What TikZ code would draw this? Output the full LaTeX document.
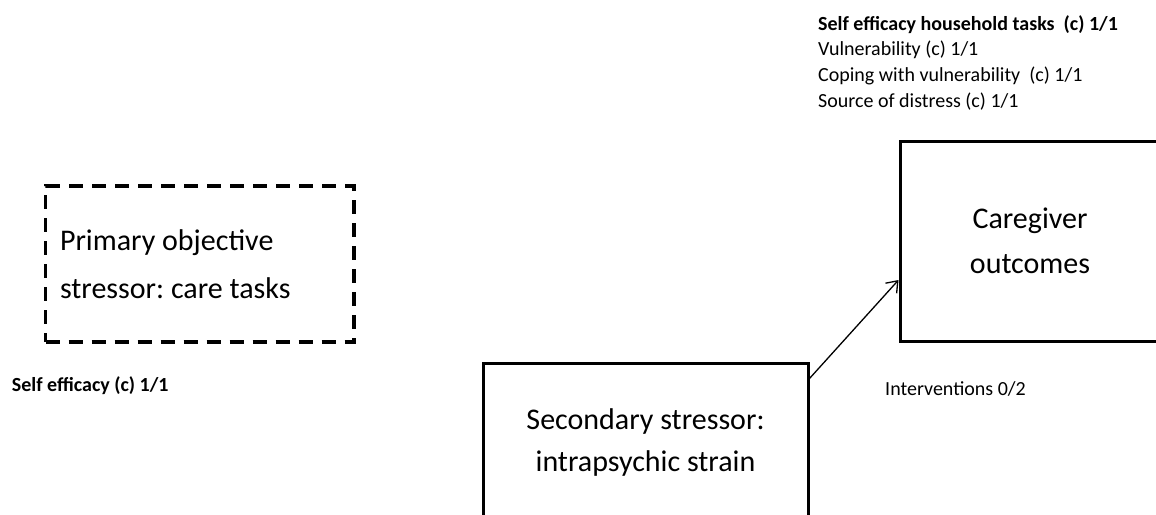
\documentclass[tikz,border=0pt]{standalone}
\usepackage{fontspec}
\setmainfont{Carlito}
\frenchspacing
\usetikzlibrary{arrows.meta}
\begin{document}
\begin{tikzpicture}[x=1pt,y=-1pt,
  solidbox/.style={draw,line width=3pt,inner sep=0pt,align=center},
  dashbox/.style={draw,line width=3.3pt,dash pattern=on 14pt off 9pt,
    inner xsep=14.5pt,inner ysep=0pt,align=flush left},
  bigtext/.style={font=\fontsize{30}{#1}\selectfont},
  note/.style={inner sep=0pt,font=\fontsize{20}{25.8}\selectfont},
  link/.style={line width=1.3pt,-{Straight Barb[length=10pt,width=15pt,line width=1.3pt]}}]
\useasboundingbox (0,0) rectangle (1156,514);
\clip (0,0) rectangle (1156,514);

% stressor and outcome boxes
\node[dashbox,bigtext=48,text width=279.5pt,minimum height=156pt] (prim) at (199.75,264)
  {Primary objective\\stressor: care tasks};
\node[solidbox,bigtext=42,minimum width=325pt,minimum height=158pt] (sec) at (645.5,442)
  {Secondary stressor:\\intrapsychic strain};
\node[solidbox,bigtext=45,minimum width=260pt,minimum height=200pt] (out) at (1030,241)
  {Caregiver\\outcomes};

% path from secondary stressor to outcomes
\draw[link] ([yshift=-17pt]sec.north east) -- ([yshift=-39pt]out.west);

% measures
\node[note,anchor=north west,align=left] (meas) at (818,15)
  {{\bfseries Self efficacy household tasks~ (c) 1/1}\\
   Vulnerability (c) 1/1\\
   Coping with vulnerability~ (c) 1/1\\
   Source of distress (c) 1/1};
\node[note,anchor=base west,font=\fontsize{20}{25.8}\selectfont\bfseries] (eff) at (11.7,391)
  {Self efficacy (c) 1/1};
\node[note,anchor=base west] (intv) at (885,395) {Interventions 0/2};
\end{tikzpicture}
\end{document}
